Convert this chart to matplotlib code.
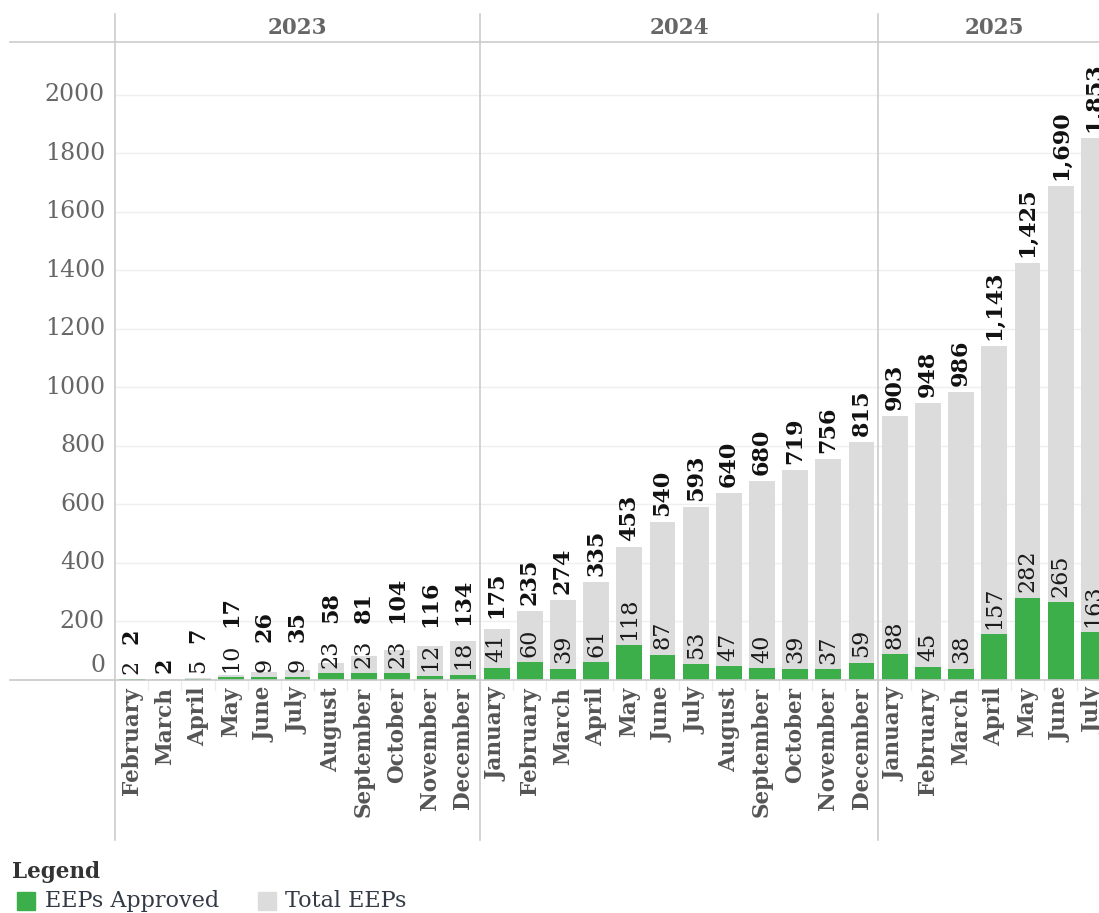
import matplotlib
matplotlib.use("Agg")
import matplotlib.pyplot as plt
from matplotlib.lines import Line2D
from matplotlib.patches import Rectangle
import matplotlib.transforms as mtransforms

plt.rcParams['font.family'] = ['DejaVu Serif']

years = ["2023", "2024", "2025"]
months_2023 = ["February", "March", "April", "May", "June", "July", "August",
               "September", "October", "November", "December"]
months_2024 = ["January", "February", "March", "April", "May", "June", "July",
               "August", "September", "October", "November", "December"]
months_2025 = ["January", "February", "March", "April", "May", "June", "July"]

approved_2023 = [2, None, 5, 10, 9, 9, 23, 23, 23, 12, 18]
total_2023 = [2, 2, 7, 17, 26, 35, 58, 81, 104, 116, 134]
approved_2024 = [41, 60, 39, 61, 118, 87, 53, 47, 40, 39, 37, 59]
total_2024 = [175, 235, 274, 335, 453, 540, 593, 640, 680, 719, 756, 815]
approved_2025 = [88, 45, 38, 157, 282, 265, 163]
total_2025 = [903, 948, 986, 1143, 1425, 1690, 1853]

yticks = [0, 200, 400, 600, 800, 1000, 1200, 1400, 1600, 1800, 2000]

month_groups = [months_2023, months_2024, months_2025]
months = months_2023 + months_2024 + months_2025
approved = approved_2023 + approved_2024 + approved_2025
totals = total_2023 + total_2024 + total_2025

GREEN = "#3daf4a"
GRAY = "#dcdcdc"
W, H = 1099, 913

fig = plt.figure(figsize=(W / 100, H / 100), dpi=100)

def fx(px):
    return px / W

def fy(py):
    return 1 - py / H

slot = 33.18
left_px, top_px, base_px = 115, 42, 680
n = len(months)
ax = fig.add_axes([fx(left_px), fy(base_px), (n * slot) / W, (base_px - top_px) / H])
ymax = 2181
ax.set_xlim(-0.5, n - 0.5)
ax.set_ylim(0, ymax)
for s in ax.spines.values():
    s.set_visible(False)
ax.set_xticks([])
ax.set_yticks([])

for t in yticks[1:]:
    ax.axhline(t, color="#efefef", lw=1, zorder=0)

xs = list(range(n))
ax.bar(xs, totals, width=0.78, color=GRAY, zorder=2)
ax.bar(xs, [a if a is not None else 0 for a in approved], width=0.78, color=GREEN, zorder=3)

# y tick labels
ytrans = mtransforms.blended_transform_factory(fig.transFigure, ax.transData)
for t in yticks:
    if t == 0:
        tr = mtransforms.offset_copy(ytrans, fig=fig, x=0, y=15, units='dots')
    else:
        tr = ytrans
    fig.text(fx(105), t, str(t), transform=tr, ha='right', va='center',
             fontsize=17, color="#666666")

# approved labels
appr_texts = {}
for i, a in enumerate(approved):
    if a is None:
        continue
    txt = ax.annotate(f"{a:,}", (i, a), xytext=(0, 4), textcoords='offset points',
                      rotation=90, ha='center', va='bottom', fontsize=16,
                      color="#1a1a1a", zorder=5, annotation_clip=False)
    appr_texts[i] = txt

fig.canvas.draw()
renderer = fig.canvas.get_renderer()
for i, tot in enumerate(totals):
    top_disp = ax.transData.transform((i, tot))[1] + 6
    if i in appr_texts:
        ext = appr_texts[i].get_window_extent(renderer)
        top_disp = max(top_disp, ext.y1 + 16)
    ydata = ax.transData.inverted().transform((0, top_disp))[1]
    ax.text(i, ydata, f"{tot:,}", rotation=90, ha='center', va='bottom',
            fontsize=16, fontweight='bold', color="#111111", zorder=5, clip_on=False)

# month labels
xtrans = mtransforms.blended_transform_factory(ax.transData, fig.transFigure)
for i, m in enumerate(months):
    fig.text(i, fy(687), m, transform=xtrans, rotation=90, ha='center', va='top',
             fontsize=15.5, fontweight='bold', color="#555555")
for i in range(n - 1):
    fig.add_artist(Line2D([i + 0.5, i + 0.5], [fy(681), fy(690)], transform=xtrans,
                          color="#ececec", lw=1))

# header and separators
fig.add_artist(Line2D([fx(10), 1], [fy(42), fy(42)], color="#cccccc", lw=1.2))
fig.add_artist(Line2D([fx(10), 1], [fy(680), fy(680)], color="#c8c8c8", lw=1.2))
starts = [0]
for g in month_groups:
    starts.append(starts[-1] + len(g))
for k, yr in enumerate(years):
    x0 = starts[k] - 0.5
    x1 = starts[k + 1] - 0.5
    fig.add_artist(Line2D([x0, x0], [fy(14), fy(840)], transform=xtrans,
                          color="#cccccc", lw=1.2))
    fig.text((x0 + x1) / 2, fy(28), yr, transform=xtrans, ha='center', va='center',
             fontsize=15.5, fontweight='bold', color="#666666")

# legend
fig.text(fx(12), fy(872), "Legend", ha='left', va='center', fontsize=15.5,
         fontweight='bold', color="#333333")
fig.add_artist(Rectangle((fx(17), fy(910)), fx(18), 18 / H, color=GREEN,
                         transform=fig.transFigure))
fig.text(fx(45), fy(901), "EEPs Approved", ha='left', va='center', fontsize=16,
         color="#333a45")
fig.add_artist(Rectangle((fx(258), fy(910)), fx(18), 18 / H, color=GRAY,
                         transform=fig.transFigure))
fig.text(fx(285), fy(901), "Total EEPs", ha='left', va='center', fontsize=16,
         color="#333a45")

fig.savefig("out.png", dpi=100, facecolor="white")
